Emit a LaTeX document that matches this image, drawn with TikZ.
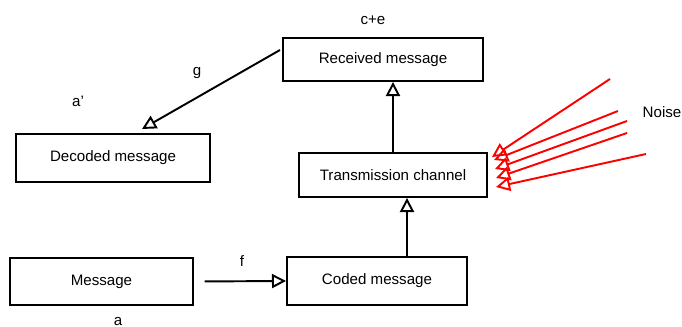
\documentclass[tikz,border=0pt]{standalone}
\usepackage{fontspec}
\setmainfont{Liberation Sans}
\usepackage{tikz}
\usetikzlibrary{arrows.meta}

\tikzset{
  blk/.style={draw,line width=1.1pt,inner sep=0pt},
  lbl/.style={font=\fontsize{8.6}{11}\selectfont},
  tri/.style={>={Triangle[open,length=8pt,width=8pt,line width=1.1pt]}}
}

\begin{document}
\begin{tikzpicture}[x=0.02cm,y=-0.02cm,font=\fontsize{8.6}{11}\selectfont]
    \useasboundingbox (0,0) rectangle (682,327);
    % boxes
    \node[blk,minimum width=200*0.02cm,minimum height=43*0.02cm] (recv) at (383,59.5) {Received message\hspace{14pt}};
    \node[blk,minimum width=194*0.02cm,minimum height=48*0.02cm] (dec) at (113,158) {Decoded message};
    \node[blk,minimum width=188*0.02cm,minimum height=44*0.02cm] (chan) at (393,175) {Transmission channel};
    \node[blk,minimum width=183*0.02cm,minimum height=47*0.02cm] (msg) at (101.5,281.5) {Message\hspace{16pt}};
    \node[blk,minimum width=180*0.02cm,minimum height=48*0.02cm] (coded) at (377,281) {Coded message\hspace{12pt}};
    % labels
    \node[lbl] (ce) at (373,20) {c+e};
    \node[lbl] (ap) at (78,101) {a'};
    \node[lbl] (g) at (197,73) {g};
    \node[lbl] (f) at (242,261) {f};
    \node[lbl] (a) at (118,322) {a};
    \node[lbl] (noise) at (662,112) {Noise};
    % ends of the slanted arrow
    \coordinate (gs) at (280,50);
    \coordinate (ge) at (142,129);
    % noise sources and ends
    \coordinate (n1) at (610,79);
    \coordinate (n2) at (618,111);
    \coordinate (n3) at (627,121);
    \coordinate (n4) at (627,133);
    \coordinate (n5) at (646,154);
    \coordinate (t1) at (492,157);
    \coordinate (t2) at (494,160);
    \coordinate (t3) at (495,169);
    \coordinate (t4) at (496,178);
    \coordinate (t5) at (496,187);
    \path[->,line width=1.1pt,tri]
      (msg.east) edge[shorten <=6pt] (coded.west)
      ([xshift=30*0.02cm]coded.north) edge ([xshift=30*0.02cm]coded.north |- chan.south)
      (chan.north) edge (chan.north |- recv.south)
      (gs) edge (ge);
    \path[->,line width=1.1pt,red,tri]
      (n1) edge (t1)
      (n2) edge (t2)
      (n3) edge (t3)
      (n4) edge (t4)
      (n5) edge (t5);
  \end{tikzpicture}
\end{document}
